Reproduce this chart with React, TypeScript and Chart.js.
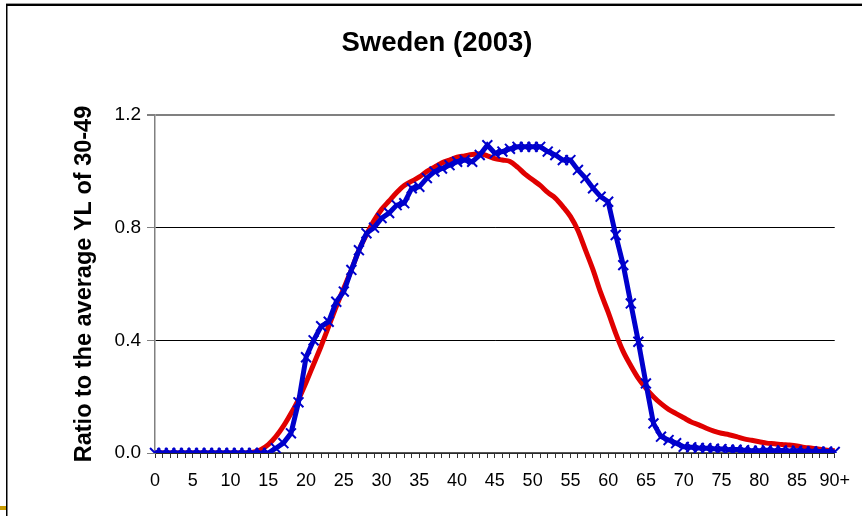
import React, { useEffect, useRef } from "react";
import { Chart, registerables } from "chart.js";

Chart.register(...registerables);

const ages: string[] = Array.from({ length: 91 }, (_, i) => (i === 90 ? "90+" : String(i)));

const titleText = "Sweden (2003)";
const yAxisTitle = "Ratio to the average YL of 30-49";
const yTicks = [0, 0.4, 0.8, 1.2];

const redSeries: number[] = [
  0, 0, 0, 0, 0, 0, 0, 0, 0, 0,
  0, 0, 0, 0.003, 0.012, 0.03, 0.058, 0.095, 0.14, 0.19,
  0.25, 0.315, 0.38, 0.45, 0.52, 0.585, 0.65, 0.72, 0.775, 0.825,
  0.865, 0.895, 0.925, 0.95, 0.965, 0.98, 1.0, 1.015, 1.03, 1.04,
  1.05, 1.055, 1.06, 1.062, 1.055, 1.045, 1.04, 1.035, 1.015, 0.99,
  0.97, 0.95, 0.925, 0.905, 0.875, 0.84, 0.79, 0.72, 0.65, 0.57,
  0.5, 0.425, 0.36, 0.31, 0.265, 0.23, 0.2, 0.175, 0.155, 0.14,
  0.125, 0.11, 0.1, 0.088, 0.078, 0.07, 0.065, 0.058, 0.05, 0.045,
  0.04, 0.035, 0.033, 0.03, 0.028, 0.025, 0.02, 0.017, 0.013, 0.01,
  0.008,
];

const blueSeries: number[] = [
  0, 0, 0, 0, 0, 0, 0, 0, 0, 0,
  0, 0, 0, 0, 0, 0, 0.017, 0.035, 0.07, 0.18,
  0.34, 0.4, 0.45, 0.466, 0.537, 0.573, 0.65, 0.72, 0.78, 0.8,
  0.834, 0.852, 0.88, 0.887, 0.94, 0.945, 0.976, 0.999, 1.01, 1.022,
  1.034, 1.04, 1.034, 1.058, 1.093, 1.064, 1.07, 1.08, 1.087, 1.087,
  1.087, 1.087, 1.07, 1.058, 1.04, 1.04, 1.005, 0.976, 0.94, 0.91,
  0.892, 0.774, 0.667, 0.531, 0.395, 0.247, 0.105, 0.058, 0.046, 0.035,
  0.022, 0.02, 0.018, 0.017, 0.015, 0.014, 0.012, 0.012, 0.01, 0.008,
  0.008, 0.01, 0.008, 0.009, 0.007, 0.008, 0.006, 0.006, 0.005, 0.005,
  0.004,
];

const FONT = "'Liberation Sans', Arial, sans-serif";

const framePlugin = {
  id: "frame",
  beforeDraw(chart: any) {
    const ctx = chart.ctx;
    ctx.save();
    ctx.fillStyle = "#ffffff";
    ctx.fillRect(0, 0, chart.width, chart.height);
    // outer slide frame
    ctx.fillStyle = "#9a9a9a";
    ctx.fillRect(6, 3, chart.width - 6, 1);
    ctx.fillStyle = "#000000";
    ctx.fillRect(6, 4, chart.width - 6, 2);
    ctx.fillRect(6, 4, 1.5, chart.height - 4);
    ctx.fillStyle = "#c89b00";
    ctx.fillRect(0, 506, 6, 4);
    // title
    ctx.fillStyle = "#000000";
    ctx.font = `bold 27.5px ${FONT}`;
    ctx.textAlign = "center";
    ctx.textBaseline = "middle";
    ctx.fillText(titleText, 437, 43);
    ctx.restore();
  },
};

export default function App() {
  const canvasRef = useRef<HTMLCanvasElement | null>(null);

  useEffect(() => {
    document.body.style.margin = "0";
    const canvas = canvasRef.current;
    if (!canvas) return;
    const chart = new Chart(canvas, {
      type: "line",
      data: {
        labels: ages,
        datasets: [
          {
            label: "Blue",
            data: blueSeries,
            borderColor: "#0000cc",
            backgroundColor: "#0000cc",
            borderWidth: 5,
            pointStyle: "crossRot",
            pointRadius: 7,
            pointBorderWidth: 2,
            pointBorderColor: "#0000cc",
            pointHoverRadius: 7,
            tension: 0,
          },
          {
            label: "Red",
            data: redSeries,
            borderColor: "#e00000",
            backgroundColor: "#e00000",
            borderWidth: 5,
            pointRadius: 0,
            cubicInterpolationMode: "monotone",
          },
        ],
      },
      options: {
        responsive: false,
        animation: false,
        layout: { padding: { left: 0, right: 19, top: 115, bottom: 0 } },
        plugins: {
          legend: { display: false },
          title: { display: false },
          tooltip: { enabled: false },
        },
        scales: {
          x: {
            type: "category",
            offset: false,
            border: { display: true, color: "#555555", width: 1.5 },
            grid: {
              drawOnChartArea: false,
              drawTicks: true,
              tickLength: 5,
              color: "#333333",
            },
            ticks: {
              autoSkip: false,
              maxRotation: 0,
              minRotation: 0,
              padding: 12,
              color: "#000000",
              font: { family: FONT, size: 18 },
              callback: (_v: any, i: number) => (i % 5 === 0 ? ages[i] : ""),
            },
            afterFit: (scale: any) => {
              scale.height = 63;
            },
          },
          y: {
            min: 0,
            max: 1.2,
            afterBuildTicks: (scale: any) => {
              scale.ticks = yTicks.map((v) => ({ value: v }));
            },
            border: { display: true, color: "#808080", width: 1.5 },
            grid: {
              color: (c: any) => (c.tick && Math.abs(c.tick.value - 1.2) < 1e-6 ? "#808080" : "#000000"),
              tickColor: "#808080",
              lineWidth: (c: any) => (c.tick && Math.abs(c.tick.value - 1.2) < 1e-6 ? 2 : 1),
              tickLength: 8,
            },
            ticks: {
              padding: 6,
              color: "#000000",
              font: { family: FONT, size: 19 },
              callback: (v: any) => Number(v).toFixed(1),
            },
            title: {
              display: true,
              text: yAxisTitle,
              color: "#000000",
              font: { family: FONT, size: 23.5, weight: "bold" },
              padding: { top: 70, bottom: 0 },
            },
            afterFit: (scale: any) => {
              scale.width = 155;
            },
          },
        },
      },
      plugins: [framePlugin],
    });
    return () => chart.destroy();
  }, []);

  return (
    <div style={{ position: "absolute", left: 0, top: 0, width: 862, height: 516 }}>
      <canvas ref={canvasRef} width={862} height={516} style={{ width: 862, height: 516, display: "block" }} />
    </div>
  );
}
